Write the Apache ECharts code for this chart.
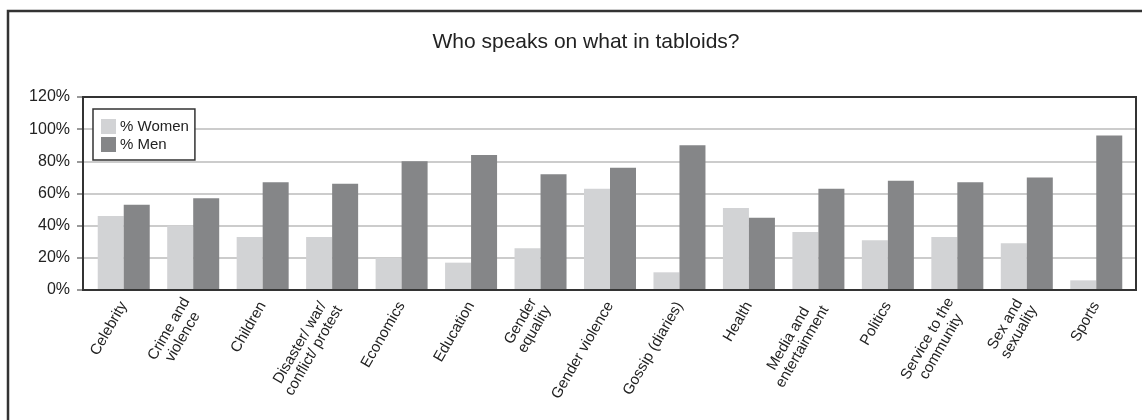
<!DOCTYPE html>
<html>
<head>
<meta charset="utf-8">
<script src="https://cdn.jsdelivr.net/npm/echarts@6/dist/echarts.min.js"></script>
<style>
html,body{margin:0;padding:0;background:#fff;}
#chart{width:1142px;height:420px;}
</style>
</head>
<body>
<div id="chart"></div>
<script>
const titleText = 'Who speaks on what in tabloids?';
const categories = [
  'Celebrity', 'Crime and\nviolence', 'Children', 'Disaster/ war/\nconflict/ protest',
  'Economics', 'Education', 'Gender\nequality', 'Gender violence',
  'Gossip (diaries)', 'Health', 'Media and\nentertainment', 'Politics',
  'Service to the\ncommunity', 'Sex and\nsexuality', 'Sports'
];
const seriesNames = ['% Women', '% Men'];
const women = [46, 40, 33, 33, 20, 17, 26, 63, 11, 51, 36, 31, 33, 29, 6];
const men   = [53, 57, 67, 66, 80, 84, 72, 76, 90, 45, 63, 68, 67, 70, 96];
const yTicks = { min: 0, max: 120, interval: 20 };

const font = '"Liberation Sans", Arial, Helvetica, sans-serif';
const chart = echarts.init(document.getElementById('chart'), null, { renderer: 'canvas' });

chart.setOption({
  animation: false,
  backgroundColor: '#fff',
  textStyle: { fontFamily: font },
  title: {
    text: titleText,
    left: 581,
    top: 27,
    textAlign: 'center',
    textStyle: { fontFamily: font, fontSize: 21, fontWeight: 'normal', color: '#222' }
  },
  graphic: [{
    type: 'rect',
    shape: { x: 8, y: 11, width: 1200, height: 500 },
    style: { fill: 'none', stroke: '#333', lineWidth: 2.5 },
    silent: true, z: 0
  }],
  legend: {
    data: seriesNames,
    orient: 'vertical',
    left: 93, top: 109,
    padding: [10, 6, 8, 8],
    itemWidth: 15, itemHeight: 15, itemGap: 3,
    icon: 'rect',
    borderColor: '#333', borderWidth: 1.5,
    backgroundColor: '#fff',
    textStyle: { fontFamily: font, fontSize: 15, color: '#222', padding: [0, 0, 0, -1] },
    selectedMode: false,
    z: 10
  },
  grid: [
    { left: 83, right: 6, top: 97, bottom: 130, show: true, borderColor: '#333', borderWidth: 2, backgroundColor: 'transparent', z: 3 },
    { left: 89, right: 11, top: 97, bottom: 130 }
  ],
  xAxis: [
    { gridIndex: 0, type: 'value', min: 0, max: 1, show: false },
    {
      gridIndex: 1, type: 'category', data: categories,
      axisLine: { show: false }, axisTick: { show: false },
      axisLabel: {
        interval: 0, rotate: 60, margin: 13,
        color: '#222', fontFamily: font, fontSize: 15,
        formatter: v => v.split('\n').map(s => '{c|' + s + '}').join('\n'),
        rich: { c: { align: 'center', fontFamily: font, fontSize: 15, color: '#222', lineHeight: 16 } }
      }
    }
  ],
  yAxis: [
    {
      gridIndex: 0, type: 'value', min: yTicks.min, max: yTicks.max, interval: yTicks.interval,
      axisLine: { show: true, lineStyle: { color: '#333', width: 2 } },
      axisTick: { show: true, length: 6, lineStyle: { color: '#999', width: 2 } },
      axisLabel: { formatter: '{value}%', margin: 13, color: '#222', fontFamily: font, fontSize: 16 },
      splitLine: { show: true, showMinLine: false, showMaxLine: false, lineStyle: { color: '#cccccc', width: 2 } }
    },
    { gridIndex: 1, type: 'value', min: yTicks.min, max: yTicks.max, interval: yTicks.interval, show: false, splitLine: { show: false } }
  ],
  series: [
    {
      name: seriesNames[0], type: 'bar', xAxisIndex: 1, yAxisIndex: 1,
      data: women, barWidth: 26, barGap: '0%',
      itemStyle: { color: '#d2d3d5' }, emphasis: { disabled: true }
    },
    {
      name: seriesNames[1], type: 'bar', xAxisIndex: 1, yAxisIndex: 1,
      data: men, barWidth: 26, barGap: '0%',
      itemStyle: { color: '#858688' }, emphasis: { disabled: true }
    }
  ]
});
</script>
</body>
</html>
